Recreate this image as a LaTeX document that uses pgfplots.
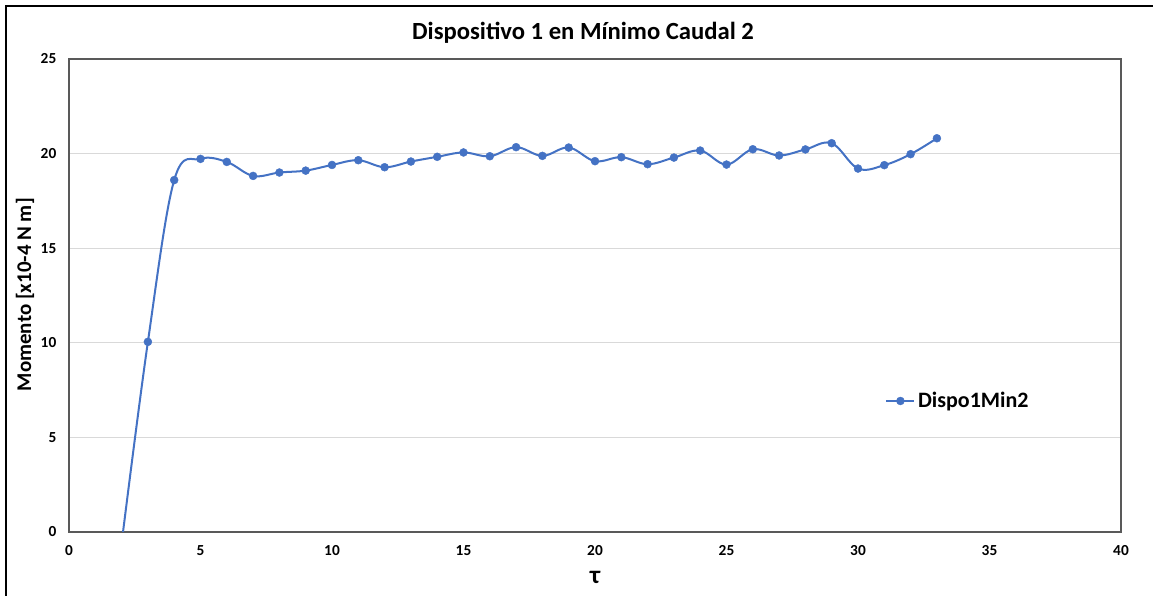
\documentclass[border=0pt]{standalone}
\usepackage{pgfplots}
\pgfplotsset{compat=1.18}
\usepackage{fontspec}
\setmainfont{Carlito}
\definecolor{serie}{HTML}{4472C4}
\definecolor{axisgray}{HTML}{595959}
\definecolor{gridgray}{HTML}{D9D9D9}
\begin{document}
\begin{tikzpicture}[x=1pt,y=1pt]
\useasboundingbox (0,0) rectangle (864.75,447);
\draw[black, line width=1.4pt] (4.5,0) -- (4.5,442.2) -- (866,442.2);
\begin{axis}[
 at={(51.75pt,48pt)}, anchor=south west,
 scale only axis, width=789pt, height=354.75pt,
 xmin=0, xmax=40, ymin=0, ymax=25,
 xtick={0,5,...,40}, ytick={0,5,...,25},
 ymajorgrids, grid style={gridgray, line width=0.75pt},
 axis line style={axisgray, line width=1.3pt},
 major tick length=0pt,
 tick label style={font=\bfseries\fontsize{11.5}{13}\selectfont, text=black},
 /pgf/number format/assume math mode=true,
 xticklabel style={yshift=-6.5pt},
 yticklabel style={xshift=-6pt},
 legend style={at={(0.772,0.277)}, anchor=west, draw=none, fill=none,
   font=\bfseries\fontsize{16.5}{18}\selectfont},
 legend cell align=left,
 legend image code/.code={\draw[mark repeat=2,mark phase=2,#1] plot coordinates {(0pt,0pt) (10.5pt,0pt) (21pt,0pt)};},
]
\addplot[serie, line width=1.5pt, smooth, tension=0.6, mark=*, mark size=3pt, mark options={solid, fill=serie, draw=serie, line width=0.3pt}] coordinates {
(2,-0.6) (3,10.05) (4,18.6) (5,19.72) (6,19.56) (7,18.82) (8,19.0) (9,19.1) (10,19.4) (11,19.65)
(12,19.28) (13,19.58) (14,19.83) (15,20.06) (16,19.86) (17,20.34) (18,19.88) (19,20.32)
(20,19.6) (21,19.81) (22,19.44) (23,19.79) (24,20.16) (25,19.42) (26,20.23) (27,19.9)
(28,20.22) (29,20.55) (30,19.21) (31,19.39) (32,19.97) (33,20.81)
};
\legend{Dispo1Min2}
\end{axis}
\node[font=\bfseries\fontsize{18.5}{20}\selectfont] at (437.25,422.25) {Dispositivo 1 en Mínimo Caudal 2};
\node[font=\bfseries\fontsize{15.7}{18}\selectfont, rotate=90] at (18.75,226) {Momento [x10-4 N m]};
\node[font=\bfseries\fontsize{19}{21}\selectfont] at (446.25,14.25) {τ};
\end{tikzpicture}
\end{document}
